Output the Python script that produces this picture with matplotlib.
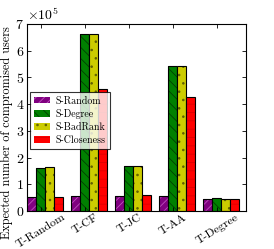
import matplotlib
matplotlib.use("Agg")
import matplotlib.pyplot as plt
import numpy as np
from matplotlib.patches import Patch

categories = ["T-Random", "T-CF", "T-JC", "T-AA", "T-Degree"]
series_names = ["S-Random", "S-Degree", "S-BadRank", "S-Closeness"]
s_random = [0.51e5, 0.57e5, 0.56e5, 0.57e5, 0.45e5]
s_degree = [1.62e5, 6.62e5, 1.68e5, 5.44e5, 0.47e5]
s_badrank = [1.64e5, 6.64e5, 1.67e5, 5.44e5, 0.45e5]
s_closeness = [0.51e5, 4.57e5, 0.60e5, 4.28e5, 0.45e5]
series = [s_random, s_degree, s_badrank, s_closeness]

colors = ["#800080", "#008000", "#cccc00", "#ff0000"]
hatch_colors = ["#c050c0", "#004000", "#606000", "#dd0000"]
hatches = ["////", "\\\\\\", "..", "--"]

plt.rcParams["font.family"] = ["cmr10", "DejaVu Serif"]
plt.rcParams["mathtext.fontset"] = "cm"
plt.rcParams["axes.formatter.use_mathtext"] = True
plt.rcParams["hatch.linewidth"] = 0.6

fig = plt.figure(figsize=(2.74, 2.49), dpi=100)
ax = fig.add_axes([0.0985, 0.1526, 0.7995, 0.751])

x = np.arange(1, len(categories) + 1)
w = 0.2
offsets = [-0.21, -0.01, 0.19, 0.39]
for vals, c, hc, h, off in zip(series, colors, hatch_colors, hatches, offsets):
    ax.bar(x + off, vals, w, color=c, edgecolor=hc, hatch=h, linewidth=0)
    ax.bar(x + off, vals, w, fill=False, edgecolor="black", linewidth=0.8)

handles = [Patch(facecolor=c, edgecolor=hc, hatch=h, linewidth=0)
           for c, hc, h in zip(colors, hatch_colors, hatches)]
leg = ax.legend(handles, series_names, loc="upper left", bbox_to_anchor=(0.014, 0.636),
                fontsize=7.2, frameon=True, fancybox=False, edgecolor="black",
                handlelength=1.6, handleheight=0.6, borderpad=0.4, labelspacing=0.35,
                handletextpad=0.55, borderaxespad=0.0)
leg.get_frame().set_linewidth(0.8)

ax.set_xlim(0.68, 5.66)
ax.set_ylim(0, 7e5)
ax.set_xticks(x)
ax.set_xticklabels(categories, rotation=32, ha="center", fontsize=8.5)
ax.set_yticks(np.arange(0, 8) * 1e5)
ax.ticklabel_format(axis="y", style="sci", scilimits=(5, 5), useMathText=True)
ax.yaxis.get_offset_text().set_fontsize(10)
ax.tick_params(direction="in", top=True, right=True, length=3, width=0.6, labelsize=10, pad=2)
ax.tick_params(axis="x", pad=1, labelsize=8.5)
for s in ax.spines.values():
    s.set_linewidth(0.8)
ax.set_ylabel("Expected number of compromised users", fontsize=8.8)
ax.yaxis.set_label_coords(-0.062, 0.42)

fig.savefig("out.png", dpi=100)
